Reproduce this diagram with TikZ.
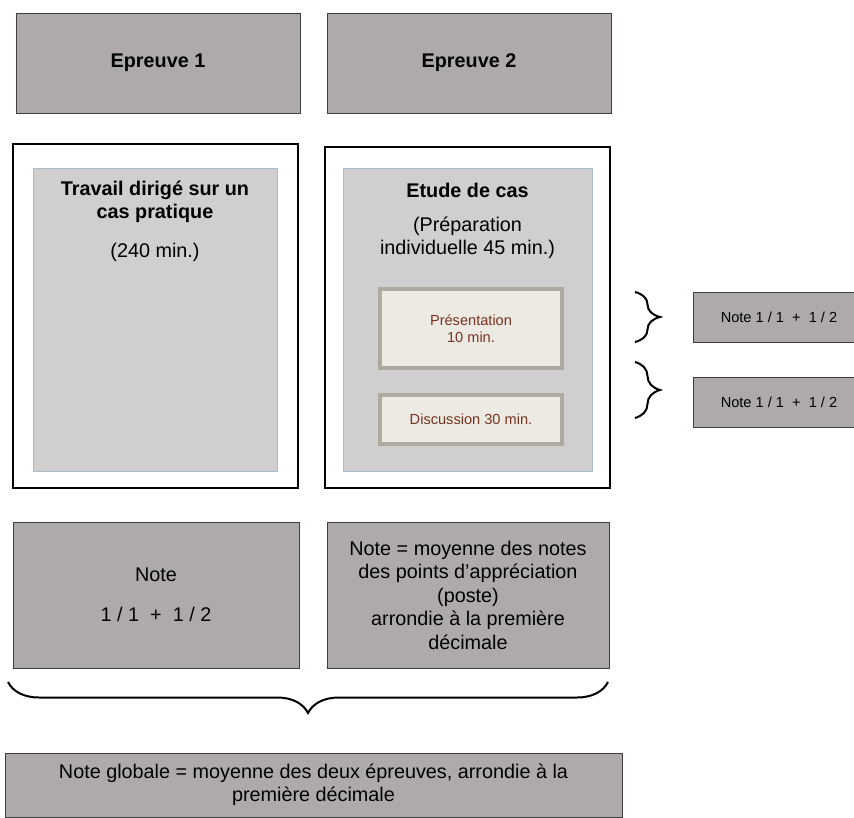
\documentclass[tikz,border=0pt]{standalone}
\usepackage{fontspec}
\setmainfont{Liberation Sans}
\usepackage{xcolor}
\definecolor{boxgray}{RGB}{174,170,170}
\definecolor{panelgray}{RGB}{208,206,206}
\definecolor{panelline}{RGB}{170,189,204}
\definecolor{cream}{RGB}{237,233,227}
\definecolor{creamline}{RGB}{174,170,162}
\definecolor{brownish}{RGB}{118,52,32}
\usepackage{tikz}
\usetikzlibrary{positioning}
\usetikzlibrary{decorations.pathreplacing}
\newcommand{\sizeL}{\fontsize{19.8pt}{23.5pt}\selectfont}
\newcommand{\sizeS}{\fontsize{14.6pt}{17pt}\selectfont}

\begin{document}
\begin{tikzpicture}[x=1pt,y=-1pt,every node/.style={inner sep=1,outer sep=0,font=\sizeL,align=center},
    greybox/.style={draw=black!75,fill=boxgray,line width=0.8pt},
    frame/.style={draw=black,line width=2.4pt},
    panel/.style={draw=panelline,fill=panelgray,line width=0.8pt},
    slot/.style={draw=creamline,fill=cream,line width=4.5pt,text=brownish,font=\sizeS},
    curly/.style={decorate,decoration={brace,amplitude=#1},line width=2pt}]
	\useasboundingbox (0,0) rectangle (854,818);
	% the two tests
	\node (e1) [greybox,minimum width=284,minimum height=100] at (158,63) {\textbf{Epreuve 1}};
	\node (e2) [greybox,minimum width=284,minimum height=100,right=27pt of e1] {\textbf{Epreuve 2}};
	% frames and panels
	\node (f1) [frame,minimum width=285,minimum height=344] at (155.5,316) {};
	\node (f2) [frame,minimum width=285,minimum height=341] at (467.5,317.5) {};
	\node (p1) [panel,minimum width=244,minimum height=303] at (155,319.5) {};
	\node (p2) [panel,minimum width=249,minimum height=303] at (467.5,319.5) {};
	\node (t1) at (155,202) {\bfseries Travail dirigé sur un\\\bfseries cas pratique};
	\node (d1) at (155,252) {(240 min.)};
	\node (t2) at (467.5,190) {\bfseries Etude de cas};
	\node (d2) at (467.5,238) {(Préparation\\individuelle 45 min.)};
	\node (s1) [slot,minimum width=182,minimum height=79] at (471,328.5) {Présentation\\10 min.};
	\node (s2) [slot,minimum width=182,minimum height=49] at (471,419.5) {Discussion 30 min.};
	% marks on the right
	\coordinate (b1) at (635,292);
	\coordinate (b2) at (635,342);
	\coordinate (b3) at (635,362);
	\coordinate (b4) at (635,418);
	\draw[curly=25] (b1) -- (b2);
	\draw[curly=25] (b3) -- (b4);
	\node (n1) [greybox,minimum width=172,minimum height=50,font=\sizeS] at (779,317) {Note 1 / 1 \ + \ 1 / 2};
	\node (n2) [greybox,minimum width=172,minimum height=50,font=\sizeS] at (779,402) {Note 1 / 1 \ + \ 1 / 2};
	% results
	\node (r1) [greybox,minimum width=286,minimum height=146] at (156,595) {Note\\[16pt]1 / 1 \ + \ 1 / 2};
	\node (r2) [greybox,minimum width=282,minimum height=146] at (468,595) {Note = moyenne des notes\\des points d’appréciation\\(poste)\\arrondie à la première\\décimale};
	\coordinate (g1) at (608,682);
	\coordinate (g2) at (8,682);
	\draw[curly=31] (g1) -- (g2);
	\node (fin) [greybox,minimum width=617,minimum height=64] at (313.5,785) {Note globale = moyenne des deux épreuves, arrondie à la\\première décimale};
\end{tikzpicture}
\end{document}
